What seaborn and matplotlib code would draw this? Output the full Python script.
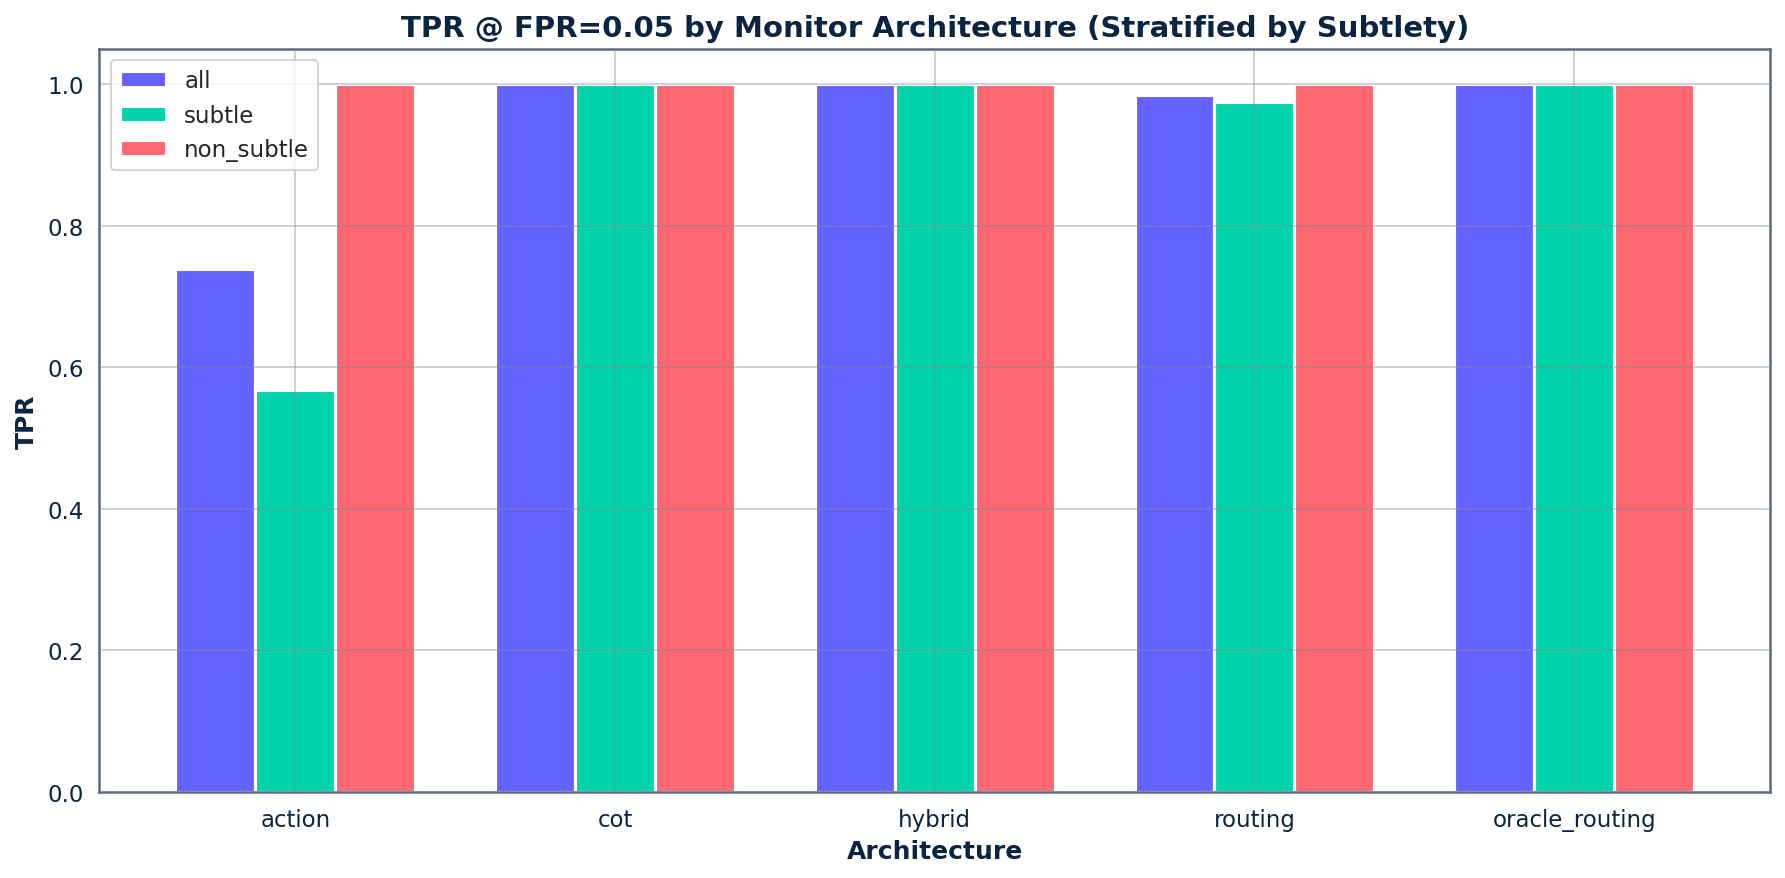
import numpy as np
import pandas as pd
import matplotlib
matplotlib.use("Agg")
import matplotlib.pyplot as plt
import seaborn as sns

architectures = ["action", "cot", "hybrid", "routing", "oracle_routing"]
subsets = ["all", "subtle", "non_subtle"]
tpr_all = [0.739, 1.0, 1.0, 0.985, 1.0]
tpr_subtle = [0.568, 1.0, 1.0, 0.975, 1.0]
tpr_non_subtle = [1.0, 1.0, 1.0, 1.0, 1.0]
colors = ["#6361FF", "#00D4AA", "#FF6773"]

navy = "#0A2540"
spine_col = "#5B6B7D"

df = pd.DataFrame({
    "Architecture": architectures * 3,
    "subset": np.repeat(subsets, len(architectures)),
    "TPR": tpr_all + tpr_subtle + tpr_non_subtle,
})

sns.set_style("white")
plt.rcParams["font.family"] = ["DejaVu Sans"]

fig, ax = plt.subplots(figsize=(12, 5.96), dpi=150)
sns.barplot(data=df, x="Architecture", y="TPR", hue="subset", hue_order=subsets,
            order=architectures, palette=colors, width=0.75, saturation=1,
            edgecolor="white", linewidth=1.5, ax=ax)

ax.set_xlim(-0.6125, 4.6125)
ax.set_ylim(0, 1.05)
ax.set_title("TPR @ FPR=0.05 by Monitor Architecture (Stratified by Subtlety)",
             fontsize=14, fontweight="bold", color=navy)
ax.set_xlabel("Architecture", fontsize=12, fontweight="bold", color=navy)
ax.set_ylabel("TPR", fontsize=12, fontweight="bold", color=navy)
ax.tick_params(axis="both", labelsize=11, colors=navy, length=4, color=spine_col)
ax.set_axisbelow(False)
ax.grid(True, color="#7F8A96", alpha=0.45, linewidth=0.8)
for s in ax.spines.values():
    s.set_color(spine_col)
    s.set_linewidth(1.2)

leg = ax.legend(loc="upper left", fontsize=11, frameon=True)
leg.set_title(None)
leg.get_frame().set_edgecolor("#CCCCCC")

plt.tight_layout()
plt.savefig("out.png", dpi=150, bbox_inches="tight")
